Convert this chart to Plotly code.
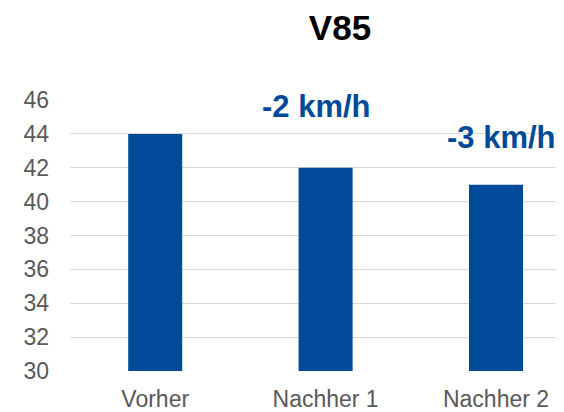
import plotly.graph_objects as go

categories = ["Vorher", "Nachher 1", "Nachher 2"]
values = [44, 42, 41]
diff_labels = ["-2 km/h", "-3 km/h"]
y_ticks = [30, 32, 34, 36, 38, 40, 42, 44, 46]

BLUE = "#004a99"
FONT = "Liberation Sans, Arial, sans-serif"

W, H = 564, 412
L, R, T, B = 62, 0, 92, 49
pw = W - L - R
ph = H - T - B

fig = go.Figure()
fig.add_trace(go.Bar(x=[0, 1, 2], y=values, width=0.317, marker_color=BLUE,
                     marker_line_width=0))


def px(xp):
    return (xp - L) / pw


def py(yp):
    return 1 - (yp - T) / ph


fig.update_layout(
    width=W, height=H,
    margin=dict(l=L, r=R, t=T, b=B),
    plot_bgcolor="white", paper_bgcolor="white",
    showlegend=False,
    font=dict(family=FONT, color="#595959", size=23),
    title=dict(text="<b>V85</b>", x=332 / W, xanchor="center", xref="container",
               y=1 - 20 / H, yanchor="middle", yref="container",
               font=dict(family=FONT, size=35, color="black")),
    xaxis=dict(range=[-0.5, 2.446], tickmode="array", tickvals=[0, 1, 2],
               ticktext=categories, showgrid=False, zeroline=False,
               showline=False, ticks="", ticklabelstandoff=12,
               tickfont=dict(size=23, color="#595959")),
    yaxis=dict(range=[30, 46], tickvals=y_ticks, showgrid=True,
               gridcolor="#d9d9d9", gridwidth=1.3, zeroline=False,
               showline=False, ticks="", ticklabelstandoff=20,
               tickfont=dict(size=23, color="#595959")),
    shapes=[
        dict(type="rect", xref="paper", yref="y", x0=px(179), x1=px(362),
             y0=43, y1=47, fillcolor="white", line_width=0, layer="between"),
        dict(type="rect", xref="paper", yref="y", x0=px(362), x1=1,
             y0=41.5, y1=47, fillcolor="white", line_width=0, layer="between"),
    ],
    annotations=[
        dict(text="<b>%s</b>" % diff_labels[0], xref="paper", yref="paper",
             x=px(308.5), y=py(98), showarrow=False,
             xanchor="center", yanchor="middle",
             font=dict(family=FONT, size=31, color=BLUE)),
        dict(text="<b>%s</b>" % diff_labels[1], xref="paper", yref="paper",
             x=px(493), y=py(129.5), showarrow=False,
             xanchor="center", yanchor="middle",
             font=dict(family=FONT, size=31, color=BLUE)),
    ],
)

fig.write_html("out.html")
